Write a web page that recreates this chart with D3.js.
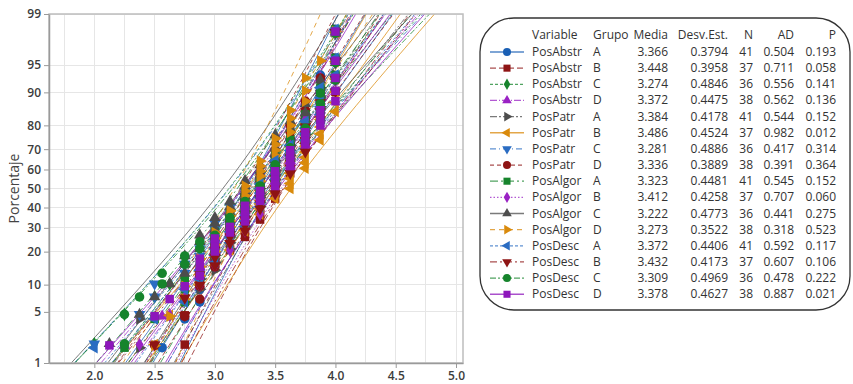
<!DOCTYPE html>
<html>
<head>
<meta charset="utf-8">
<script src="https://cdn.jsdelivr.net/npm/d3@7"></script>
<style>
  body { margin: 0; background: #fff; }
  svg { display: block; font-family: "Open Sans", sans-serif; }
</style>
</head>
<body>
<svg id="chart" width="853" height="384"></svg>
<script>
// legend table
const variables = ["PosAbstr", "PosAbstr", "PosAbstr", "PosAbstr", "PosPatr", "PosPatr", "PosPatr", "PosPatr",
  "PosAlgor", "PosAlgor", "PosAlgor", "PosAlgor", "PosDesc", "PosDesc", "PosDesc", "PosDesc"];
const groups = ["A", "B", "C", "D", "A", "B", "C", "D", "A", "B", "C", "D", "A", "B", "C", "D"];
const means = [3.366, 3.448, 3.274, 3.372, 3.384, 3.486, 3.281, 3.336, 3.323, 3.412, 3.222, 3.273, 3.372, 3.432, 3.309, 3.378];
const stdevs = [0.3794, 0.3958, 0.4846, 0.4475, 0.4178, 0.4524, 0.4886, 0.3889, 0.4481, 0.4258, 0.4773, 0.3522, 0.4406, 0.4173, 0.4969, 0.4627];
const ns = [41, 37, 36, 38, 41, 37, 36, 38, 41, 37, 36, 38, 41, 37, 36, 38];
const ads = [0.504, 0.711, 0.556, 0.562, 0.544, 0.982, 0.417, 0.391, 0.545, 0.707, 0.441, 0.318, 0.592, 0.607, 0.478, 0.887];
const pvals = [0.193, 0.058, 0.141, 0.136, 0.152, 0.012, 0.314, 0.364, 0.152, 0.060, 0.275, 0.523, 0.117, 0.106, 0.222, 0.021];

// samples: [score, count]
const posAbstrA = [[2.5625,1],[2.75,1],[2.875,4],[3.0,4],[3.125,4],[3.25,4],[3.375,5],[3.5,5],[3.625,3],[3.75,4],[3.875,4],[4.0,2]];
const posAbstrB = [[2.75,3],[2.875,2],[3.0,2],[3.125,2],[3.25,3],[3.375,4],[3.5,5],[3.625,5],[3.75,4],[3.875,3],[4.0,4]];
const posAbstrC = [[2.0,1],[2.25,1],[2.5,1],[2.625,1],[2.75,2],[2.875,2],[3.0,3],[3.125,3],[3.25,4],[3.375,3],[3.5,4],[3.625,3],[3.75,3],[3.875,3],[4.0,2]];
const posAbstrD = [[2.25,1],[2.5625,1],[2.75,1],[2.875,3],[3.0,4],[3.125,3],[3.25,4],[3.375,3],[3.5,3],[3.625,4],[3.75,4],[3.875,5],[4.0,2]];
const posPatrA = [[2.375,2],[2.75,1],[2.875,2],[3.0,3],[3.125,4],[3.25,4],[3.375,5],[3.5,6],[3.625,4],[3.75,4],[3.875,3],[4.0,3]];
const posPatrB = [[2.5,1],[2.625,1],[2.75,1],[2.875,2],[3.0,2],[3.125,3],[3.25,3],[3.375,3],[3.5,2],[3.625,4],[3.75,5],[3.875,4],[4.0,6]];
const posPatrC = [[2.0,1],[2.375,1],[2.5,2],[2.75,2],[2.875,2],[3.0,4],[3.125,3],[3.25,3],[3.375,3],[3.5,3],[3.625,3],[3.75,3],[3.875,3],[4.0,3]];
const posPatrD = [[2.5,1],[2.75,1],[2.875,3],[3.0,5],[3.125,4],[3.25,4],[3.375,4],[3.5,5],[3.625,4],[3.75,3],[3.875,2],[4.0,2]];
const posAlgorA = [[2.25,1],[2.5,1],[2.75,3],[2.875,2],[3.0,5],[3.125,4],[3.25,4],[3.375,3],[3.5,5],[3.625,3],[3.75,4],[3.875,3],[4.0,3]];
const posAlgorB = [[2.375,1],[2.625,1],[2.75,1],[2.875,2],[3.0,2],[3.125,3],[3.25,3],[3.375,4],[3.5,6],[3.625,4],[3.75,4],[3.875,3],[4.0,3]];
const posAlgorC = [[2.125,1],[2.375,1],[2.5,1],[2.625,1],[2.75,3],[2.875,3],[3.0,3],[3.125,3],[3.25,4],[3.375,3],[3.5,5],[3.625,2],[3.75,2],[3.875,2],[4.0,2]];
const posAlgorD = [[2.5,1],[2.625,1],[2.75,2],[2.875,3],[3.0,4],[3.125,4],[3.25,5],[3.375,5],[3.5,4],[3.625,4],[3.75,3],[3.875,1],[4.0,1]];
const posDescA = [[2.0,1],[2.5,1],[2.75,2],[2.875,2],[3.0,3],[3.125,3],[3.25,4],[3.375,6],[3.5,5],[3.625,3],[3.75,4],[3.875,4],[4.0,3]];
const posDescB = [[2.5,1],[2.75,2],[2.875,2],[3.0,3],[3.125,2],[3.25,4],[3.375,3],[3.5,4],[3.625,4],[3.75,5],[3.875,3],[4.0,4]];
const posDescC = [[2.25,2],[2.375,1],[2.5625,2],[2.75,2],[2.875,2],[3.0,1],[3.125,3],[3.25,3],[3.375,3],[3.5,4],[3.625,3],[3.75,3],[3.875,4],[4.0,3]];
const posDescD = [[2.125,1],[2.5,1],[2.625,1],[2.75,1],[2.875,3],[3.0,3],[3.125,2],[3.25,4],[3.375,3],[3.5,4],[3.625,4],[3.75,3],[3.875,3],[4.0,5]];
const samples = [posAbstrA, posAbstrB, posAbstrC, posAbstrD, posPatrA, posPatrB, posPatrC, posPatrD,
  posAlgorA, posAlgorB, posAlgorC, posAlgorD, posDescA, posDescB, posDescC, posDescD];

const xTicks = [2.0, 2.5, 3.0, 3.5, 4.0, 4.5, 5.0];
const xGrid = [1.75, 2.0, 2.25, 2.5, 2.75, 3.0, 3.25, 3.5, 3.75, 4.0, 4.25, 4.5, 4.75, 5.0];
const yTicks = [1, 5, 10, 20, 30, 40, 50, 60, 70, 80, 90, 95, 99];

// styles
const colors = ["#1a5fb4", "#8e1414", "#16842c", "#9a22c4", "#4d4d4d", "#d98a0c", "#2a6cc2", "#8e1414",
  "#16842c", "#9a22c4", "#4d4d4d", "#d98a0c", "#2a6cc2", "#8e1414", "#16842c", "#8d16bb"];
const dashes = [null, "6,3", "3,2", "7,2,1,2", "7,2,2,2,2,2", null, "6,3,1,3", "4,3",
  "8,3,2,3", "1.5,2", null, "5,4", "3,2", "7,3,2,3", "6,2,2,2", null];
const shapes = ["circle", "square", "diamond", "up", "right", "left", "down", "circle",
  "square", "diamond", "up", "right", "left", "down", "circle", "square"];

// normal quantile (Acklam)
function qnorm(p) {
  const a = [-39.69683028665376, 220.9460984245205, -275.9285104469687, 138.3577518672690, -30.66479806614716, 2.506628277459239];
  const b = [-54.47609879822406, 161.5858368580409, -155.6989798598866, 66.80131188771972, -13.28068155288572];
  const c = [-0.007784894002430293, -0.3223964580411365, -2.400758277161838, -2.549732539343734, 4.374664141464968, 2.938163982698783];
  const d = [0.007784695709041462, 0.3224671290700398, 2.445134137142996, 3.754408661907416];
  const plow = 0.02425;
  let q, r;
  if (p < plow) {
    q = Math.sqrt(-2 * Math.log(p));
    return (((((c[0]*q+c[1])*q+c[2])*q+c[3])*q+c[4])*q+c[5]) / ((((d[0]*q+d[1])*q+d[2])*q+d[3])*q+1);
  }
  if (p > 1 - plow) {
    q = Math.sqrt(-2 * Math.log(1 - p));
    return -(((((c[0]*q+c[1])*q+c[2])*q+c[3])*q+c[4])*q+c[5]) / ((((d[0]*q+d[1])*q+d[2])*q+d[3])*q+1);
  }
  q = p - 0.5; r = q * q;
  return (((((a[0]*r+a[1])*r+a[2])*r+a[3])*r+a[4])*r+a[5])*q / (((((b[0]*r+b[1])*r+b[2])*r+b[3])*r+b[4])*r+1);
}

function symbolPath(shape, size) {
  const map = { circle: d3.symbolCircle, square: d3.symbolSquare, diamond: d3.symbolDiamond,
    up: d3.symbolTriangle, down: d3.symbolTriangle, left: d3.symbolTriangle, right: d3.symbolTriangle };
  let s = size;
  if (shape === "diamond") s = size * 0.75;
  if (["up", "down", "left", "right"].includes(shape)) s = size * 0.8;
  return d3.symbol().type(map[shape]).size(s)();
}
function symbolRot(shape) {
  return { down: 180, left: -90, right: 90 }[shape] || 0;
}

const svg = d3.select("#chart");
const plotL = 49, plotR = 463, plotT = 14, plotB = 363;

const xScale = d3.scaleLinear().domain([1.624, 5.058]).range([plotL, plotR]);
const yScale = d3.scaleLinear().domain([qnorm(0.01), qnorm(0.99)]).range([plotB, plotT]);

// grid
svg.append("g").selectAll("line").data(xGrid).enter().append("line")
  .attr("x1", d => xScale(d)).attr("x2", d => xScale(d))
  .attr("y1", plotT).attr("y2", plotB)
  .style("stroke", "#e6e6e6").style("shape-rendering", "crispEdges");
svg.append("g").selectAll("line").data(yTicks).enter().append("line")
  .attr("x1", plotL).attr("x2", plotR)
  .attr("y1", d => yScale(qnorm(d / 100))).attr("y2", d => yScale(qnorm(d / 100)))
  .style("stroke", "#e6e6e6").style("shape-rendering", "crispEdges");

svg.append("clipPath").attr("id", "plotclip")
  .append("rect").attr("x", plotL).attr("y", plotT).attr("width", plotR - plotL).attr("height", plotB - plotT);

// fit lines + 95% CI
const zLo = qnorm(0.01), zHi = qnorm(0.99);
const zs = d3.range(0, 81).map(i => zLo + (zHi - zLo) * i / 80);
const line = d3.line().x(d => xScale(d[0])).y(d => yScale(d[1]));
const lines = svg.append("g").attr("clip-path", "url(#plotclip)");
means.forEach((m, i) => {
  const sd = stdevs[i], n = ns[i];
  [-1, 0, 1].forEach(k => {
    const pts = zs.map(z => {
      const ci = 1.96 * sd * Math.sqrt(1 / n + z * z / (2 * (n - 1)));
      return [m + sd * z + k * ci, z];
    });
    lines.append("path").attr("d", line(pts))
      .style("fill", "none").style("stroke", colors[i]).style("stroke-width", 1)
      .style("stroke-opacity", 0.75)
      .style("stroke-dasharray", dashes[i]);
  });
});

// points (median ranks)
const pointsG = svg.append("g").attr("clip-path", "url(#plotclip)");
samples.forEach((smp, i) => {
  const vals = [];
  smp.forEach(([v, c]) => { for (let j = 0; j < c; j++) vals.push(v); });
  vals.sort((a, b) => a - b);
  const n = vals.length;
  pointsG.append("g").selectAll("path").data(vals).enter().append("path")
    .attr("d", symbolPath(shapes[i], 72))
    .attr("transform", (v, j) => "translate(" + xScale(v) + "," + yScale(qnorm((j + 1 - 0.3) / (n + 0.4))) + ") rotate(" + symbolRot(shapes[i]) + ")")
    .style("fill", colors[i]);
});

// frame
svg.append("rect").attr("x", plotL).attr("y", plotT).attr("width", plotR - plotL).attr("height", plotB - plotT)
  .style("fill", "none").style("stroke", "#bdbdbd").style("stroke-width", 1.5);

// axes
const xAxis = svg.append("g").attr("transform", "translate(0," + plotB + ")")
  .call(d3.axisBottom(xScale).tickValues(xTicks).tickFormat(d3.format(".1f")).tickSize(5).tickSizeOuter(0));
const yAxis = svg.append("g").attr("transform", "translate(" + plotL + ",0)")
  .call(d3.axisLeft(yScale).tickValues(yTicks.map(t => qnorm(t / 100))).tickFormat((d, i) => yTicks[i]).tickSize(5).tickSizeOuter(0));
[xAxis, yAxis].forEach(g => {
  g.select(".domain").style("stroke", "#9a9a9a").style("stroke-width", 1.5);
  g.selectAll(".tick line").style("stroke", "#9a9a9a");
  g.selectAll("text").style("font-family", "Open Sans").style("font-size", "12px")
    .style("font-weight", 600).style("fill", "#3c3c3c");
});
xAxis.selectAll("text").attr("dy", "0.72em");

svg.append("text").text("Porcentaje")
  .attr("transform", "translate(19," + ((plotT + plotB) / 2) + ") rotate(-90)")
  .attr("text-anchor", "middle")
  .style("font-size", "14px").style("fill", "#444");

// legend
const lg = svg.append("g");
lg.append("rect").attr("x", 480).attr("y", 18).attr("width", 370).attr("height", 292).attr("rx", 34)
  .style("fill", "#fff").style("stroke", "#333").style("stroke-width", 1.3);

const cols = [
  { x: 532, anchor: "start", head: "Variable", val: i => variables[i] },
  { x: 593, anchor: "start", head: "Grupo", val: i => groups[i] },
  { x: 668, anchor: "end", head: "Media", val: i => d3.format(".3f")(means[i]) },
  { x: 728, anchor: "end", head: "Desv.Est.", val: i => d3.format(".4f")(stdevs[i]) },
  { x: 753, anchor: "end", head: "N", val: i => ns[i] },
  { x: 794, anchor: "end", head: "AD", val: i => d3.format(".3f")(ads[i]) },
  { x: 836, anchor: "end", head: "P", val: i => d3.format(".3f")(pvals[i]) }
];
const rowY = i => 52 + i * 16.15;
cols.forEach(c => {
  lg.append("text").text(c.head).attr("x", c.x).attr("y", 39)
    .attr("text-anchor", c.anchor).style("font-size", "12px").style("fill", "#333");
  lg.selectAll(null).data(d3.range(16)).enter().append("text")
    .text(i => c.val(i)).attr("x", c.x).attr("y", i => rowY(i) + 4)
    .attr("text-anchor", c.anchor).style("font-size", "12px").style("fill", "#333");
});
d3.range(16).forEach(i => {
  lg.append("line").attr("x1", 490).attr("x2", 524).attr("y1", rowY(i)).attr("y2", rowY(i))
    .style("stroke", colors[i]).style("stroke-width", 1.3).style("stroke-opacity", 0.75)
    .style("stroke-dasharray", dashes[i]);
  lg.append("path").attr("d", symbolPath(shapes[i], 50))
    .attr("transform", "translate(507," + rowY(i) + ") rotate(" + symbolRot(shapes[i]) + ")")
    .style("fill", colors[i]);
});
</script>
</body>
</html>
